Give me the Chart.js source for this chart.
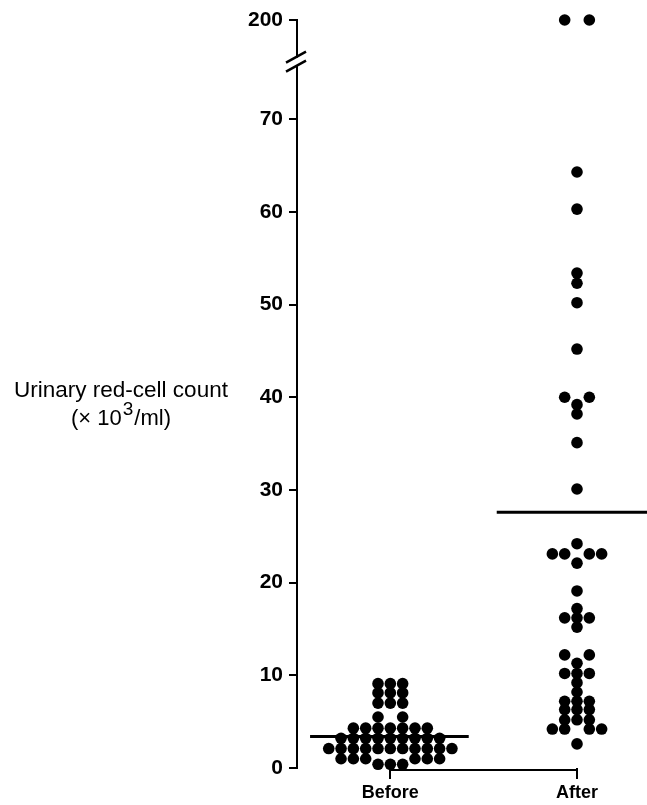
<!DOCTYPE html>
<html>
<head>
<meta charset="utf-8">
<script src="https://cdn.jsdelivr.net/npm/chart.js@4"></script>
<style>
  html, body { margin: 0; padding: 0; background: #fff; }
  #wrap { width: 647px; height: 805px; }
</style>
</head>
<body>
<div id="wrap"><canvas id="c" width="647" height="805"></canvas></div>
<script>
// urinary red-cell count (x10^3/ml), one dot per patient
var GROUPS = ['Before', 'After'];
var BEFORE = [0.4, 0.4, 0.4,
  1.0, 1.0, 1.0, 1.0, 1.0, 1.0,
  2.1, 2.1, 2.1, 2.1, 2.1, 2.1, 2.1, 2.1, 2.1, 2.1, 2.1,
  3.2, 3.2, 3.2, 3.2, 3.2, 3.2, 3.2, 3.2, 3.2,
  4.3, 4.3, 4.3, 4.3, 4.3, 4.3, 4.3,
  5.5, 5.5,
  7.0, 7.0, 7.0,
  8.1, 8.1, 8.1,
  9.1, 9.1, 9.1];
var AFTER = [2.6,
  4.2, 4.2, 4.2, 4.2,
  5.2, 5.2, 5.2,
  6.3, 6.3, 6.3,
  7.2, 7.2, 7.2,
  8.2, 9.2,
  10.2, 10.2, 10.2,
  11.3, 12.2, 12.2,
  15.2, 16.2, 16.2, 16.2, 17.2, 19.1,
  22.1, 23.1, 23.1, 23.1, 23.1, 24.2,
  30.1, 35.1, 38.2, 39.2, 40.0, 40.0, 45.2,
  50.2, 52.3, 53.4, 60.3, 64.3,
  200, 200];
var MEANS = [3.4, 27.6];
var Y_TICKS = [0, 10, 20, 30, 40, 50, 60, 70, 200];

// axis break: everything above 70 is squeezed so that 200 sits just above
var BREAK_AT = 70;
var Y_TOP = 80.7;
function disp(v) {
  return v <= BREAK_AT ? v : BREAK_AT + (v - BREAK_AT) * (Y_TOP - BREAK_AT) / (200 - BREAK_AT);
}

var STEP = 0.066;   // one dot column, in x units
var SAME = 0.7;     // dots closer than this in one column would sit on top of each other

// simple dot-plot layout: each row of equal values is spread out from the centre
function swarm(vals, centre) {
  var placed = [];
  var sorted = vals.slice().sort(function (a, b) { return a - b; });
  var i = 0;
  while (i < sorted.length) {
    var v = sorted[i], n = 0;
    while (i + n < sorted.length && sorted[i + n] === v) n++;
    var cands = n % 2 ? [0] : [];
    for (var k = 1; k < 12; k++) cands.push(-k, k);
    var used = 0;
    for (var c = 0; c < cands.length && used < n; c++) {
      var col = cands[c];
      var hit = placed.some(function (p) { return p.col === col && Math.abs(p.v - v) < SAME; });
      if (hit) continue;
      placed.push({ col: col, v: v });
      used++;
    }
    i += n;
  }
  return placed.map(function (p) { return { x: centre + p.col * STEP, y: disp(p.v) }; });
}

function meanLine(g) {
  return [{ x: g - 0.43, y: MEANS[g] }, { x: g + 0.42, y: MEANS[g] }];
}

var FONT = "'Liberation Sans', Arial, sans-serif";

var decor = {
  id: 'decor',
  afterDraw: function (chart) {
    var ctx = chart.ctx, xs = chart.scales.x, ys = chart.scales.y, a = chart.chartArea;
    ctx.save();
    ctx.strokeStyle = '#000';
    ctx.lineWidth = 2;
    // x axis only runs between the two groups
    var yb = a.bottom + 2;
    ctx.beginPath();
    ctx.moveTo(xs.getPixelForValue(0), yb);
    ctx.lineTo(xs.getPixelForValue(1), yb);
    ctx.stroke();
    // break marks on the y axis
    var cy = ys.getPixelForValue(76.2), ax = a.left;
    ctx.fillStyle = '#fff';
    ctx.fillRect(ax - 3, cy - 4, 6, 8);
    ctx.lineWidth = 2.5;
    ctx.beginPath();
    ctx.moveTo(ax - 11, cy + 1); ctx.lineTo(ax + 9, cy - 10);
    ctx.moveTo(ax - 11, cy + 10); ctx.lineTo(ax + 9, cy - 1);
    ctx.stroke();
    // axis title, horizontal on the left
    ctx.fillStyle = '#000';
    ctx.textBaseline = 'middle';
    ctx.textAlign = 'center';
    ctx.font = '22.5px ' + FONT;
    ctx.fillText('Urinary red-cell count', 121, 391);
    var p1 = '(\u00d7 10', p3 = '/ml)';
    ctx.font = '22px ' + FONT;
    var w1 = ctx.measureText(p1).width, w3 = ctx.measureText(p3).width;
    ctx.font = '19px ' + FONT;
    var w2 = ctx.measureText('3').width;
    var x0 = 121 - (w1 + w2 + w3 + 2) / 2;
    ctx.textAlign = 'left';
    ctx.font = '22px ' + FONT;
    ctx.fillText(p1, x0, 419);
    ctx.font = '19px ' + FONT;
    ctx.fillText('3', x0 + w1 + 1, 410);
    ctx.font = '22px ' + FONT;
    ctx.fillText(p3, x0 + w1 + w2 + 2, 419);
    ctx.restore();
  }
};

var dot = { showLine: false, pointRadius: 5.8, pointHoverRadius: 5.8, pointBackgroundColor: '#000', pointBorderWidth: 0, clip: false };

new Chart(document.getElementById('c'), {
  type: 'scatter',
  data: {
    datasets: [
      Object.assign({ label: GROUPS[0], data: swarm(BEFORE, 0) }, dot),
      Object.assign({ label: GROUPS[1], data: swarm(AFTER, 1) }, dot),
      { type: 'line', label: 'mean before', data: meanLine(0), borderColor: '#000', borderWidth: 3, pointRadius: 0 },
      { type: 'line', label: 'mean after', data: meanLine(1), borderColor: '#000', borderWidth: 3, pointRadius: 0 }
    ]
  },
  options: {
    responsive: false,
    animation: false,
    layout: { autoPadding: false, padding: { top: 20, right: 0, bottom: 0, left: 0 } },
    plugins: { legend: { display: false }, tooltip: { enabled: false } },
    scales: {
      x: {
        type: 'linear', min: -0.5, max: 1.375,
        afterBuildTicks: function (s) { s.ticks = [{ value: 0 }, { value: 1 }]; },
        afterFit: function (s) { s.height = 37; },
        ticks: {
          callback: function (v) { return GROUPS[v]; },
          color: '#000', font: { family: FONT, size: 18, weight: 'bold' }, padding: 3, maxRotation: 0
        },
        grid: { drawOnChartArea: false, tickLength: 11, color: '#000', lineWidth: 2 },
        border: { display: false }
      },
      y: {
        min: 0, max: Y_TOP,
        afterBuildTicks: function (s) { s.ticks = Y_TICKS.map(function (t) { return { value: disp(t) }; }); },
        afterFit: function (s) { s.width = 297; },
        ticks: {
          callback: function (v) { return v === Y_TOP ? '200' : String(v); },
          color: '#000', font: { family: FONT, size: 21, weight: 'bold' }, padding: 6
        },
        grid: { drawOnChartArea: false, tickLength: 8, color: '#000', lineWidth: 2 },
        border: { color: '#000', width: 2 }
      }
    }
  },
  plugins: [decor]
});
</script>
</body>
</html>
